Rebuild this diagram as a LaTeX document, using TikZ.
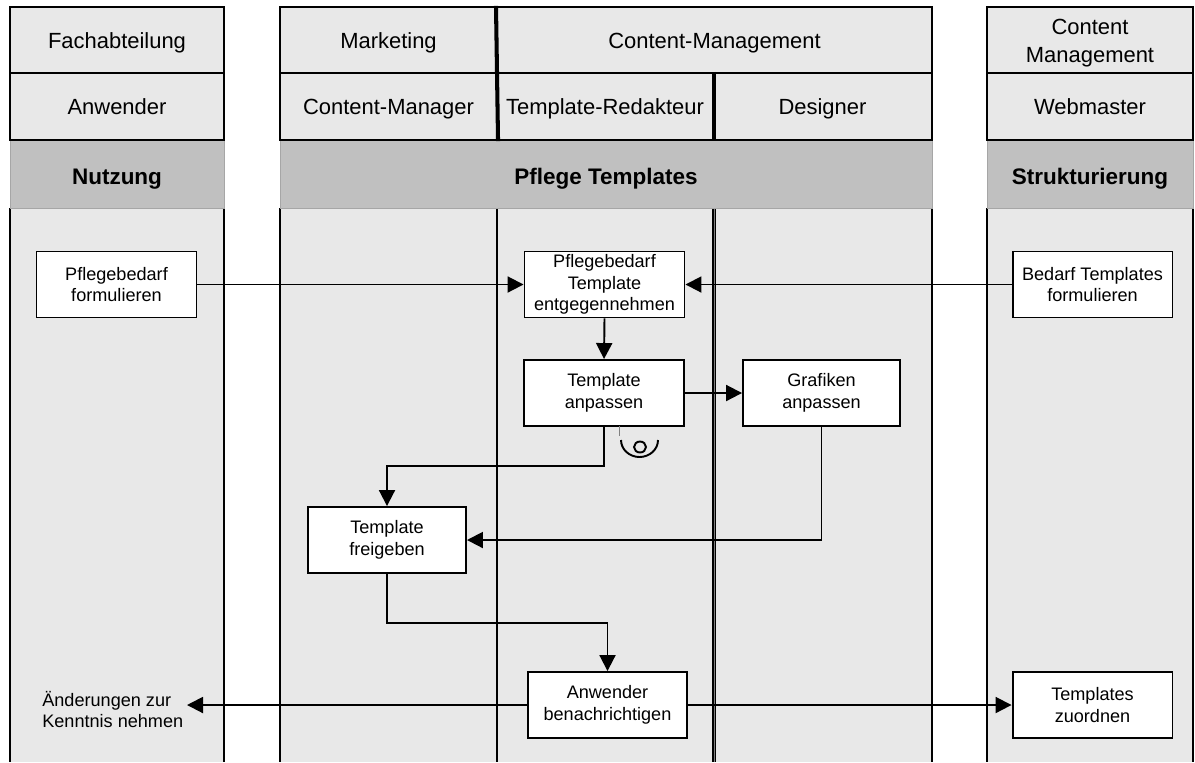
\documentclass[tikz,border=0pt]{standalone}
\usepackage{fontspec}
\setmainfont{Liberation Sans}
\usetikzlibrary{arrows.meta}
\definecolor{lightbg}{HTML}{E8E8E8}
\definecolor{phase}{HTML}{C0C0C0}
\begin{document}
\begin{tikzpicture}[x=0.02cm,y=-0.02cm,
  cell/.style={draw=black, line width=1.2pt, fill=lightbg, inner sep=0pt, align=center, font=\fontsize{12.5}{15.5}\selectfont},
  one/.style={text height=0.92em, text depth=0pt},
  r1/.style={minimum height=1.32cm},
  r2/.style={minimum height=1.34cm},
  phasecell/.style={draw=gray!70, line width=0.5pt, fill=phase, inner sep=0pt, minimum height=1.36cm, align=center, text height=1.14em, text depth=0pt, font=\fontsize{12.8}{15.5}\selectfont\bfseries},
  lane/.style={line width=1.1pt},
  box/.style={draw, fill=white, line width=1.1pt, minimum width=3.2cm, minimum height=1.32cm, inner sep=1pt, align=center, font=\fontsize{10.3}{12.2}\selectfont},
  flow/.style={line width=1.1pt, -{Triangle[length=0.32cm,width=0.32cm]}},
]
\useasboundingbox (0,0) rectangle (1195,762);
% lane backgrounds
\fill[lightbg] (10,208) rectangle (224,762);
\fill[lightbg] (280,208) rectangle (932,762);
\fill[lightbg] (987,208) rectangle (1193,762);
% lane lines
\foreach \x in {10,224,280,497,932,987,1193}
  \draw[lane] (\x,208) -- (\x,762);
\draw[line width=2.3pt] (714,208) -- (714,762);
\draw[line width=0.4pt, gray] (714,208) -- (714,762);
% phase row
\node[phasecell, minimum width=4.28cm] (ph1) at (117,174) {Nutzung};
\node[phasecell, minimum width=13.04cm] (ph2) at (606,174) {Pflege Templates};
\node[phasecell, minimum width=4.12cm] (ph3) at (1090,174) {Strukturierung};
% header row 1
\node[cell, one, r1, minimum width=4.28cm] (h11) at (117,40) {Fachabteilung};
\node[cell, one, r1, minimum width=4.34cm] (h12) at (388.5,40) {Marketing};
\node[cell, one, r1, minimum width=8.7cm] (h13) at (714.5,40) {Content-Management};
\node[cell, r1, minimum width=4.12cm] (h14) at (1090,40) {};
\node[align=center, inner sep=0pt, font=\fontsize{12.5}{15.5}\selectfont] (h14t) at (1090,43) {Content\\Management};
% header row 2
\node[cell, one, r2, minimum width=4.28cm] (h21) at (117,106.5) {Anwender};
\node[cell, one, r2, minimum width=4.34cm] (h22) at (388.5,106.5) {Content-Manager};
\node[cell, one, r2, minimum width=4.32cm] (h23) at (605,106.5) {Template-Redakteur};
\node[cell, one, r2, minimum width=4.38cm] (h24) at (822.5,106.5) {Designer};
\node[cell, one, r2, minimum width=4.12cm] (h25) at (1090,106.5) {Webmaster};
\draw[line width=2.3pt] (h23.north east) -- (h23.south east);
\draw[line width=2.3pt] (h13.north west) -- (h22.south east);
% boxes
\node[box] (pf) at (116.5,284.5) {Pflegebedarf\\formulieren};
\node[box] (pte) at (604.5,284.5) {Pflegebedarf\\Template\\entgegennehmen};
\node[box] (btf) at (1092.5,284.5) {Bedarf Templates\\formulieren};
\node[box] (ta) at (604,393) {Template\\anpassen};
\node[box, minimum width=3.14cm] (ga) at (821.5,393) {Grafiken\\anpassen};
\node[box, minimum width=3.16cm] (tf) at (387,540) {Template\\freigeben};
\node[box, minimum width=3.18cm] (ab) at (607.5,705) {Anwender\\benachrichtigen};
\node[box] (tz) at (1092.5,705) {Templates\\zuordnen};
\node[anchor=west, inner sep=0pt, align=left, font=\fontsize{10.3}{12.2}\selectfont] (chg) at (42,709.5) {Änderungen zur\\Kenntnis nehmen};
\coordinate (chgtip) at (187,705);
% connectors
\draw[flow] (pf.east) -- (pte.west);
\draw[flow] (btf.west) -- (pte.east);
\draw[flow] (pte.south) -- (ta.north);
\draw[flow] (ta.east) -- (ga.west);
\draw[flow] (ta.south) -- ++(0,39) -| (tf.north);
\draw[flow] (ga.south) |- (tf.east);
\draw[flow] (tf.south) -- ++(0,49) -| (ab.north);
\draw[flow] (ab.west) -- (chgtip);
\draw[flow] (ab.east) -- (tz.west);
% connector symbol below "Template anpassen"
\draw[line width=0.3pt, gray] (619,426) -- (619,436);
\draw[line width=1.1pt] (621,440) arc[start angle=180, end angle=0, x radius=18.5, y radius=17];
\draw[line width=1.1pt] (640,447) ellipse[x radius=6, y radius=5.5];
\end{tikzpicture}
\end{document}
